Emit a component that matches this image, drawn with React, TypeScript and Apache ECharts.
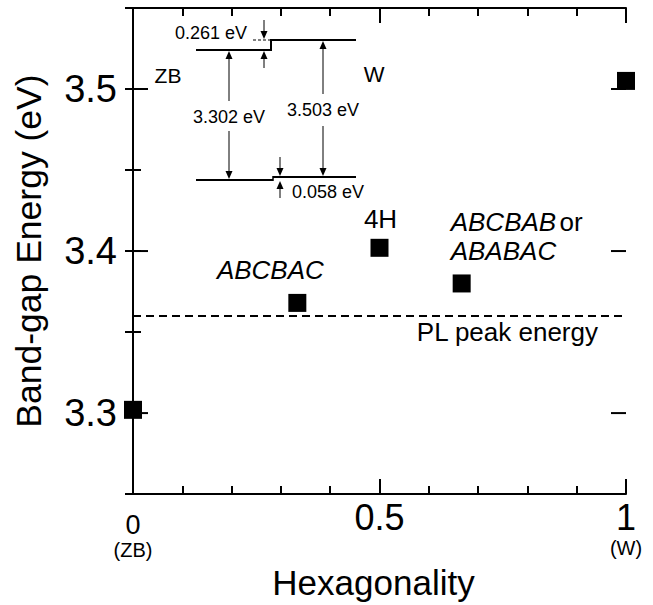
import React, { useEffect, useRef } from 'react';
import * as echarts from 'echarts';

// ---- data ----
const hexagonality = [0, 1 / 3, 0.5, 2 / 3, 1];
const bandGap = [3.302, 3.368, 3.402, 3.38, 3.505];
const pointLabels = ['', '{i|ABCBAC}', '{n|4H}', '{i|ABCBAB} {n|or}\n{i|ABABAC}', ''];
const PL_PEAK = 3.361;
const PL_LABEL = 'PL peak energy';
const xTicks = [0, 0.5, 1];
const xTickLabels = ['0', '0.5', '1'];
const xSubLabels = ['(ZB)', '', '(W)'];
const yMajorTicks = [3.3, 3.4, 3.5];
const yTickLabels = ['3.3', '3.4', '3.5'];
const insetGapLabels = ['3.302 eV', '3.503 eV'];
const insetOffsetLabels = ['0.261 eV', '0.058 eV'];
const insetPhaseLabels = ['ZB', 'W'];

// ---- styles / layout ----
const FONT = 'Liberation Sans, Arial, Helvetica, sans-serif';
const labelOffsets: any[] = [null, [-27, -33], [1, -29], [-11, -76], null];
const labelAligns = ['center', 'center', 'center', 'left', 'center'];
const labelVAligns = ['middle', 'middle', 'middle', 'top', 'middle'];

function arrowHead(x: number, y: number, dir: number) {
  const L = 8, W = 3.5;
  return {
    type: 'polygon',
    shape: { points: [[x, y], [x - W, y - dir * L], [x + W, y - dir * L]] },
    style: { fill: '#000' },
    z: 10,
  };
}
function seg(x1: number, y1: number, x2: number, y2: number, w = 1, dash?: number[]) {
  return {
    type: 'line',
    shape: { x1, y1, x2, y2 },
    style: { stroke: '#000', lineWidth: w, lineDash: dash },
    z: 10,
  };
}
function txt(text: string, x: number, y: number, size: number, align = 'center') {
  return {
    type: 'text',
    x,
    y,
    style: { text, fontSize: size, fontFamily: FONT, fill: '#000', align, verticalAlign: 'middle' },
    z: 10,
  };
}

export default function App() {
  const ref = useRef<HTMLDivElement>(null);
  useEffect(() => {
    document.body.style.margin = '0';
    const chart = echarts.init(ref.current!, null, { renderer: 'svg' });

    const axisLineStyle = { color: '#000', width: 2 };

    const inset = [
      seg(196, 50, 271, 50, 2),
      seg(271, 51, 271, 39, 2),
      seg(271, 40, 356, 40, 2),
      seg(253, 40, 270, 40, 1, [3, 2]),
      seg(196, 180, 273, 180, 2),
      seg(273, 181, 273, 176, 1.5),
      seg(273, 177, 356, 177, 2),
      seg(229, 56, 229, 101),
      arrowHead(229, 51, -1),
      seg(229, 131, 229, 173),
      arrowHead(229, 179, 1),
      seg(323, 46, 323, 94),
      arrowHead(323, 41, -1),
      seg(323, 126, 323, 170),
      arrowHead(323, 176, 1),
      seg(264, 20, 264, 34),
      arrowHead(264, 39, 1),
      seg(264, 68, 264, 56),
      arrowHead(264, 51, -1),
      seg(280, 157, 280, 171),
      arrowHead(280, 176, 1),
      seg(280, 198, 280, 187),
      arrowHead(280, 181, -1),
      txt(insetGapLabels[0], 229, 117, 18),
      txt(insetGapLabels[1], 323, 110, 18),
      txt(insetOffsetLabels[0], 175, 33, 18, 'left'),
      txt(insetOffsetLabels[1], 292, 192, 18, 'left'),
      txt(insetPhaseLabels[0], 168, 75, 21),
      txt(insetPhaseLabels[1], 374, 74, 22),
    ];

    const xLabelFormatter = (v: number) => {
      const i = xTicks.findIndex((t) => Math.abs(t - v) < 1e-6);
      if (i < 0) return '';
      if (i === 0) return `{z|${xTickLabels[i]}}\n{p|${xSubLabels[i]}}`;
      if (xSubLabels[i]) return `{b|${xTickLabels[i]}}\n{pw|${xSubLabels[i]}}`;
      return `{b|${xTickLabels[i]}}`;
    };
    const yLabelFormatter = (v: number) => {
      const i = yMajorTicks.findIndex((t) => Math.abs(t - v) < 1e-6);
      return i < 0 ? '' : yTickLabels[i];
    };

    const option: any = {
      animation: false,
      backgroundColor: '#fff',
      grid: { left: 133, right: 27, top: 8, bottom: 104, containLabel: false },
      xAxis: [
        {
          type: 'value',
          min: 0,
          max: 1,
          interval: 0.5,
          position: 'bottom',
          axisLine: { show: true, lineStyle: axisLineStyle },
          axisTick: { show: true, inside: true, length: 15, lineStyle: { color: '#000', width: 2 } },
          minorTick: { show: true, splitNumber: 5, length: 8, lineStyle: { color: '#000', width: 2 } },
          splitLine: { show: false },
          minorSplitLine: { show: false },
          axisLabel: {
            margin: 10,
            formatter: xLabelFormatter,
            color: '#000',
            fontFamily: FONT,
            verticalAlign: 'top',
            rich: {
              b: { fontSize: 36, lineHeight: 26, fontFamily: FONT, color: '#000' },
              z: { fontSize: 27, lineHeight: 42, fontFamily: FONT, color: '#000' },
              p: { fontSize: 20, lineHeight: 8, fontFamily: FONT, color: '#000' },
              pw: { fontSize: 20, lineHeight: 36, fontFamily: FONT, color: '#000' },
            },
          },
          name: 'Hexagonality',
          nameLocation: 'middle',
          nameGap: 55,
          nameTextStyle: { fontSize: 35, fontFamily: FONT, color: '#000', padding: [0, 12, 0, 0] },
        },
        {
          type: 'value',
          min: 0,
          max: 1,
          interval: 0.5,
          position: 'top',
          axisLine: { show: true, lineStyle: axisLineStyle },
          axisTick: { show: true, inside: true, length: 15, lineStyle: { color: '#000', width: 2 } },
          minorTick: { show: true, splitNumber: 5, length: 8, lineStyle: { color: '#000', width: 2 } },
          splitLine: { show: false },
          minorSplitLine: { show: false },
          axisLabel: { show: false },
        },
      ],
      yAxis: [
        {
          type: 'value',
          min: 3.25,
          max: 3.55,
          interval: 0.05,
          position: 'left',
          axisLine: { show: true, lineStyle: axisLineStyle },
          axisTick: { show: true, inside: true, length: 8, lineStyle: { color: '#000', width: 2 } },
          splitLine: { show: false },
          axisLabel: { margin: 16, formatter: yLabelFormatter, fontSize: 38, fontFamily: FONT, color: '#000' },
          name: 'Band-gap Energy (eV)',
          nameLocation: 'middle',
          nameGap: 86,
          nameTextStyle: { fontSize: 35.5, fontFamily: FONT, color: '#000' },
        },
        {
          type: 'value',
          min: 3.25,
          max: 3.55,
          interval: 0.05,
          position: 'right',
          axisLine: { show: true, lineStyle: axisLineStyle },
          axisTick: { show: true, inside: true, length: 8, lineStyle: { color: '#000', width: 2 } },
          splitLine: { show: false },
          axisLabel: { show: false },
        },
      ],
      series: [
        {
          type: 'custom',
          xAxisIndex: 0,
          yAxisIndex: 0,
          clip: false,
          silent: true,
          data: yMajorTicks.map((v) => [0, v]),
          renderItem: (params: any, api: any) => {
            const p = api.coord([0, api.value(1)]);
            const cs = params.coordSys;
            const st = { stroke: '#000', lineWidth: 2 };
            return {
              type: 'group',
              children: [
                { type: 'line', shape: { x1: cs.x, y1: p[1], x2: cs.x + 15, y2: p[1] }, style: st },
                { type: 'line', shape: { x1: cs.x + cs.width, y1: p[1], x2: cs.x + cs.width - 15, y2: p[1] }, style: st },
              ],
            };
          },
        },
        {
          type: 'scatter',
          xAxisIndex: 0,
          yAxisIndex: 0,
          symbol: 'rect',
          symbolSize: 18,
          clip: false,
          z: 5,
          itemStyle: { color: '#000', opacity: 1 },
          data: hexagonality.map((x, i) => ({
            value: [x, bandGap[i]],
            label: {
              show: !!pointLabels[i],
              formatter: pointLabels[i],
              position: 'inside',
              offset: labelOffsets[i] || [0, 0],
              align: labelAligns[i],
              verticalAlign: labelVAligns[i],
              lineHeight: 29,
              color: '#000',
              opacity: 1,
              rich: {
                i: { fontSize: 26, fontStyle: 'italic', fontFamily: FONT, color: '#000', lineHeight: 29 },
                n: { fontSize: 26, fontFamily: FONT, color: '#000', lineHeight: 29 },
              },
            },
          })),
          markLine: {
            silent: true,
            symbol: 'none',
            lineStyle: { color: '#000', type: [8, 5], width: 1.8, opacity: 1 },
            label: {
              show: true,
              position: 'insideEndBottom',
              formatter: PL_LABEL,
              fontSize: 26,
              fontFamily: FONT,
              color: '#000',
              distance: [28, 3],
            },
            data: [{ yAxis: PL_PEAK }],
          },
        },
      ],
      graphic: inset,
    };
    chart.setOption(option);
    return () => chart.dispose();
  }, []);
  return <div ref={ref} style={{ width: 653, height: 605 }} />;
}
